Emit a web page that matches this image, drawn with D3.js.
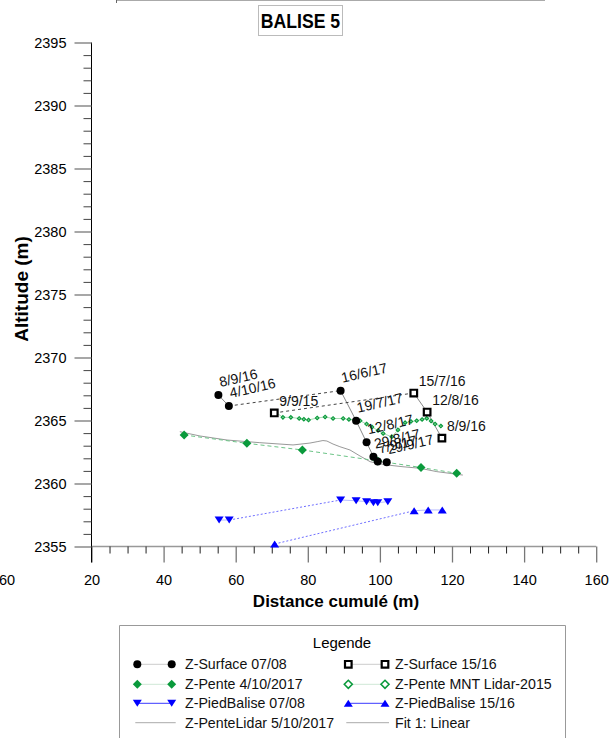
<!DOCTYPE html>
<html><head><meta charset="utf-8">
<script src="https://cdn.jsdelivr.net/npm/d3@7"></script>
<style>body{margin:0;background:#fff;} svg{display:block;font-family:Arial,"Liberation Sans",sans-serif;}</style>
</head><body><svg id="c" width="616" height="738"></svg>
<script>
// ---------- data ----------
const surf0708Dates = ["8/9/16","4/10/16","16/6/17","19/7/17","12/8/17","29/8/17","7/9/17","29/9/17"];
const surf0708X = [55.2, 58.1, 89.1, 93.4, 96.3, 98.2, 99.4, 101.9];
const surf0708Y = [2367.02, 2366.15, 2367.37, 2364.98, 2363.27, 2362.13, 2361.75, 2361.68];

const surf1516Dates = ["9/9/15","15/7/16","12/8/16","8/9/16"];
const surf1516X = [70.7, 109.4, 113.1, 117.2];
const surf1516Y = [2365.6, 2367.18, 2365.67, 2363.6];

const pente2017X = [45.7, 63.1, 78.5, 99.4, 111.4, 121.3];
const pente2017Y = [2363.85, 2363.19, 2362.66, 2361.79, 2361.27, 2360.81];

const lidar2015X = [71.1, 73.1, 75.3, 77.6, 78.9, 80.2, 82.6, 84.8, 87.0, 89.8, 91.4, 93.1, 94.5, 96.3, 97.8, 99.5, 100.9, 103.3, 105.0, 107.0, 108.6, 110.2, 111.7, 113.0, 114.2, 115.3, 116.9];
const lidar2015Y = [2365.65, 2365.25, 2365.25, 2365.16, 2365.10, 2365.04, 2365.20, 2365.28, 2365.16, 2365.16, 2365.08, 2365.04, 2364.98, 2364.72, 2364.48, 2364.21, 2363.97, 2363.71, 2364.25, 2364.83, 2364.92, 2364.98, 2365.08, 2365.17, 2364.96, 2364.72, 2364.56];

const penteLidar2017X = [44.5, 50.1, 57.6, 66.7, 75.9, 80.6, 82.8, 84.2, 85.3, 87.0, 88.9, 91.7, 94.5, 97.3, 99.2, 102.0, 106.4, 111.1, 115.8, 123.0];
const penteLidar2017Y = [2364.11, 2363.77, 2363.45, 2363.24, 2363.06, 2363.21, 2363.33, 2363.41, 2363.37, 2363.13, 2362.92, 2362.66, 2362.18, 2361.73, 2361.60, 2361.47, 2361.33, 2361.21, 2360.94, 2360.67];

const pied0708X = [55.4, 58.2, 89.1, 93.4, 96.3, 98.2, 99.4, 102.2];
const pied0708Y = [2357.10, 2357.10, 2358.69, 2358.63, 2358.56, 2358.48, 2358.48, 2358.56];

const pied1516X = [70.8, 109.5, 113.4, 117.3];
const pied1516Y = [2355.2, 2357.84, 2357.90, 2357.90];

const xTicks = [20, 40, 60, 80, 100, 120, 140, 160];
const yTicks = [2355, 2360, 2365, 2370, 2375, 2380, 2385, 2390, 2395];
const xMinorStep = 5, yMinorStep = 1;

const titleText = "BALISE 5";
const xTitle = "Distance cumulé (m)";
const yTitle = "Altitude (m)";
const legendTitle = "Legende";
const legendLeft = ["Z-Surface 07/08", "Z-Pente 4/10/2017", "Z-PiedBalise 07/08", "Z-PenteLidar 5/10/2017"];
const legendRight = ["Z-Surface 15/16", "Z-Pente MNT Lidar-2015", "Z-PiedBalise 15/16", "Fit 1: Linear"];

// ---------- setup ----------
const svg = d3.select("#c");
const x = d3.scaleLinear().domain([20, 160]).range([91.5, 596.2]);
const y = d3.scaleLinear().domain([2355, 2395]).range([546.5, 42.5]);
const GREEN = "#0a9a3c", BLUE = "#0000ff";

const zip = (xs, ys) => xs.map((v, i) => [v, ys[i]]);
const yearOf = s => s.split("/")[2];

const M = {
  circle: (cx, cy) => `M${cx+4},${cy}A4,4 0 1,1 ${cx-4},${cy}A4,4 0 1,1 ${cx+4},${cy}Z`,
  diamond: (cx, cy) => `M${cx},${cy-4.5}L${cx+4.5},${cy}L${cx},${cy+4.5}L${cx-4.5},${cy}Z`,
  smallDiamond: (cx, cy) => `M${cx},${cy-1.8}L${cx+1.8},${cy}L${cx},${cy+1.8}L${cx-1.8},${cy}Z`,
  smallDiamondL: (cx, cy) => `M${cx},${cy-4}L${cx+4},${cy}L${cx},${cy+4}L${cx-4},${cy}Z`,
  down: (cx, cy) => `M${cx-4.5},${cy-3.5}L${cx+4.5},${cy-3.5}L${cx},${cy+3.5}Z`,
  up: (cx, cy) => `M${cx-4.5},${cy+3.5}L${cx+4.5},${cy+3.5}L${cx},${cy-3.5}Z`,
  square: (cx, cy) => `M${cx-3.3},${cy-3.3}h6.6v6.6h-6.6Z`
};

// ---------- top decorations ----------
svg.append("line").attr("x1", 116).attr("x2", 545).attr("y1", 0.5).attr("y2", 0.5).attr("stroke", "#aaa");
svg.append("line").attr("x1", 116.5).attr("x2", 116.5).attr("y1", 0).attr("y2", 3).attr("stroke", "#666");
svg.append("rect").attr("x", 258.5).attr("y", 5.5).attr("width", 84).attr("height", 30)
  .attr("fill", "#fff").attr("stroke", "#bbb");
svg.append("text").attr("transform", "translate(300.5,28) scale(0.86,1)").attr("text-anchor", "middle")
  .attr("font-size", 20.5).attr("font-weight", "bold").attr("fill", "#000").text(titleText);

// ---------- axes ----------
const minorX = d3.range(20, 160.01, xMinorStep).filter(v => !xTicks.includes(v));
const minorY = d3.range(2355, 2395.01, yMinorStep).filter(v => !yTicks.includes(v));

const gx = svg.append("g").attr("transform", `translate(0,${y(2355)})`);
gx.call(d3.axisBottom(x).tickValues(xTicks).tickSize(16).tickPadding(12).tickFormat(d3.format("d")));
gx.select(".domain").attr("stroke", "#999").attr("stroke-width", 1.5).attr("d", `M${x(20)},0H${x(160)}`);
gx.selectAll(".tick line").attr("stroke", "#777").attr("stroke-width", 1.3);
gx.selectAll(".tick text").attr("font-size", 14.5).attr("font-family", "Arial, Liberation Sans, sans-serif").attr("fill", "#000");
const gxm = svg.append("g").attr("transform", `translate(0,${y(2355)})`);
gxm.call(d3.axisBottom(x).tickValues(minorX).tickSize(7).tickFormat(""));
gxm.select(".domain").remove();
gxm.selectAll(".tick line").attr("stroke", "#222");

const gy = svg.append("g").attr("transform", `translate(${x(20)},0)`);
gy.call(d3.axisLeft(y).tickValues(yTicks).tickSize(17).tickPadding(8).tickFormat(d3.format("d")));
gy.select(".domain").attr("stroke", "#000").attr("d", `M0,${y(2395)}V${y(2355)+16}`);
gy.selectAll(".tick line").attr("stroke", "#777").attr("stroke-width", 1.3);
gy.selectAll(".tick text").attr("font-size", 14.5).attr("font-family", "Arial, Liberation Sans, sans-serif").attr("fill", "#000");
const gym = svg.append("g").attr("transform", `translate(${x(20)},0)`);
gym.call(d3.axisLeft(y).tickValues(minorY).tickSize(8).tickFormat(""));
gym.select(".domain").remove();
gym.selectAll(".tick line").attr("stroke", "#444");

svg.append("text").attr("x", -1).attr("y", 585).attr("font-size", 14.5).attr("fill", "#000").text("60");

svg.append("text").attr("x", 336).attr("y", 607).attr("text-anchor", "middle")
  .attr("font-size", 17).attr("font-weight", "bold").text(xTitle);
svg.append("text").attr("transform", "translate(28,289) rotate(-90)").attr("text-anchor", "middle")
  .attr("font-size", 19).attr("font-weight", "bold").text(yTitle);

// ---------- series lines ----------
const line = d3.line().x(d => x(d[0])).y(d => y(d[1]));
function segLines(pts, dates, solidColor, dashColor, dash) {
  for (let i = 0; i < pts.length - 1; i++) {
    const dashed = yearOf(dates[i]) !== yearOf(dates[i + 1]);
    svg.append("path").attr("d", line([pts[i], pts[i + 1]])).attr("fill", "none")
      .attr("stroke", dashed ? dashColor : solidColor).attr("stroke-width", 1)
      .attr("stroke-dasharray", dashed ? dash : null);
  }
}
const pLidar17 = zip(penteLidar2017X, penteLidar2017Y);
svg.append("path").attr("d", line(pLidar17)).attr("fill", "none").attr("stroke", "#999").attr("stroke-width", 1);

const pPente = zip(pente2017X, pente2017Y);
svg.append("path").attr("d", line(pPente)).attr("fill", "none").attr("stroke", "#6cc487").attr("stroke-width", 1).attr("stroke-dasharray", "4,3");

const pLidar15 = zip(lidar2015X, lidar2015Y);
svg.append("path").attr("d", line(pLidar15)).attr("fill", "none").attr("stroke", "#a8dcb4").attr("stroke-width", 1);

const pS0708 = zip(surf0708X, surf0708Y);
const pS1516 = zip(surf1516X, surf1516Y);
segLines(pS0708, surf0708Dates, "#888", "#444", "3,3");
segLines(pS1516, surf1516Dates, "#888", "#444", "3,3");

const pP0708 = zip(pied0708X, pied0708Y);
const pP1516 = zip(pied1516X, pied1516Y);
segLines(pP0708, surf0708Dates, "#b8bcff", "#6f6fff", "2,2");
segLines(pP1516, surf1516Dates, "#b8bcff", "#6f6fff", "2,2");

// ---------- markers ----------
function markers(pts, shape, fill, stroke, sw) {
  svg.append("g").selectAll("path").data(pts).join("path")
    .attr("d", d => M[shape](x(d[0]), y(d[1])))
    .attr("fill", fill).attr("stroke", stroke).attr("stroke-width", sw);
}
markers(pLidar15, "smallDiamond", "#7fcf95", GREEN, 1.1);
markers(pPente, "diamond", GREEN, "none", 0);
markers(pS1516, "square", "#fff", "#000", 2.2);
markers(pS0708, "circle", "#000", "none", 0);
markers(pP0708, "down", BLUE, "none", 0);
markers(pP1516, "up", BLUE, "none", 0);

// ---------- point labels ----------
svg.append("g").selectAll("text").data(pS0708).join("text")
  .attr("transform", d => `translate(${x(d[0]) + 2},${y(d[1]) - 8}) rotate(-13)`)
  .attr("font-size", 14).attr("fill", "#111")
  .text((d, i) => surf0708Dates[i]);
svg.append("g").selectAll("text").data(pS1516).join("text")
  .attr("x", d => x(d[0]) + 5).attr("y", d => y(d[1]) - 7)
  .attr("font-size", 14).attr("fill", "#111")
  .text((d, i) => surf1516Dates[i]);

// ---------- legend ----------
const lg = svg.append("g");
lg.append("path").attr("d", "M119.5,740V625.5H565.5V740").attr("fill", "#fff").attr("stroke", "#999");
lg.append("text").attr("x", 342).attr("y", 648).attr("text-anchor", "middle").attr("font-size", 15).text(legendTitle);
const rowsY = [664.3, 684.3, 703.3, 722.7];
const legLeftSpec = [
  {shape: "circle", fill: "#000", stroke: "none", sw: 0, lc: "#ccc"},
  {shape: "diamond", fill: GREEN, stroke: "none", sw: 0, lc: "#cfe8d6"},
  {shape: "down", fill: BLUE, stroke: "none", sw: 0, lc: "#3a3aff"},
  {shape: null, lc: "#aaa"}
];
const legRightSpec = [
  {shape: "square", fill: "#fff", stroke: "#000", sw: 2.2, lc: "#ccc"},
  {shape: "smallDiamondL", fill: "#fff", stroke: GREEN, sw: 1.6, lc: "#cfe8d6"},
  {shape: "up", fill: BLUE, stroke: "none", sw: 0, lc: "#3a3aff"},
  {shape: null, lc: "#aaa"}
];
function legendCol(specs, labels, x1, x2, tx) {
  specs.forEach((s, i) => {
    const yy = rowsY[i];
    if (s.shape) {
      lg.append("line").attr("x1", x1).attr("x2", x2).attr("y1", yy).attr("y2", yy).attr("stroke", s.lc);
      [x1, x2].forEach(cx => lg.append("path").attr("d", M[s.shape](cx, yy))
        .attr("fill", s.fill).attr("stroke", s.stroke).attr("stroke-width", s.sw));
    } else {
      lg.append("line").attr("x1", x1 - 2).attr("x2", x2 + 4).attr("y1", yy).attr("y2", yy).attr("stroke", s.lc);
    }
    lg.append("text").attr("x", tx).attr("y", yy + 5).attr("font-size", 14.2).attr("fill", "#111").text(labels[i]);
  });
}
legendCol(legLeftSpec, legendLeft, 137.3, 171.7, 185);
legendCol(legRightSpec, legendRight, 348.3, 385, 395);
</script></body></html>
